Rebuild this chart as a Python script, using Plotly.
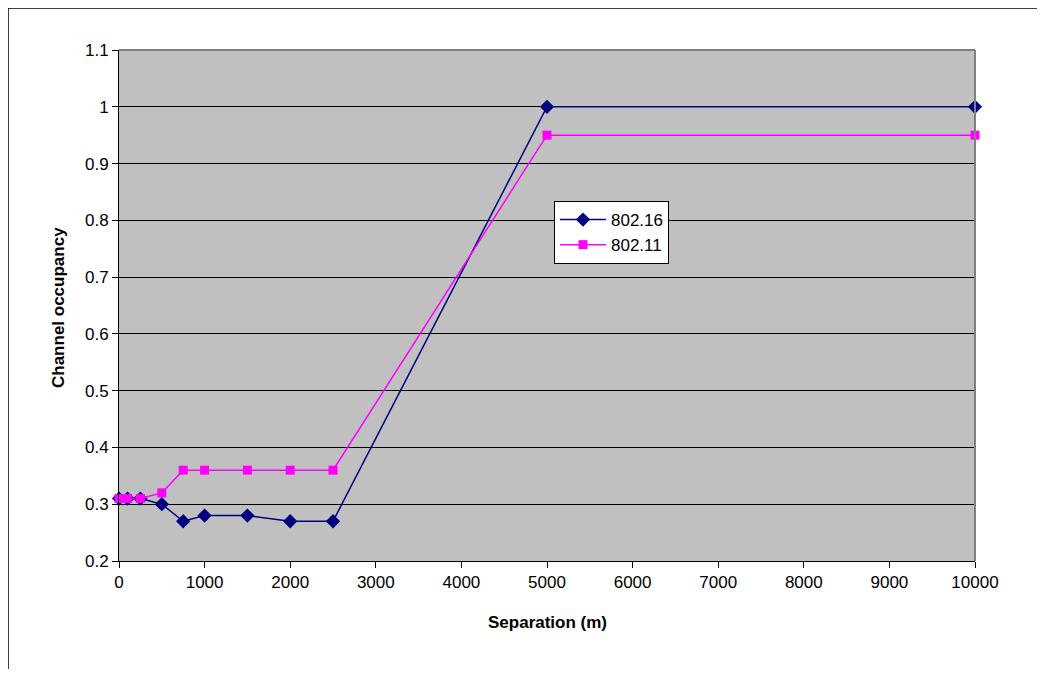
import plotly.graph_objects as go

separation = [0, 100, 250, 500, 750, 1000, 1500, 2000, 2500, 5000, 10000]
occ_80216 = [0.31, 0.31, 0.31, 0.30, 0.27, 0.28, 0.28, 0.27, 0.27, 1.0, 1.0]
occ_80211 = [0.31, 0.31, 0.31, 0.32, 0.36, 0.36, 0.36, 0.36, 0.36, 0.95, 0.95]

OFF = 8  # page body margin
W, H = 1045 - 2 * OFF, 677 - 2 * OFF
L, R, T, B = 119 - OFF, 975 - OFF, 50 - OFF, 561 - OFF
pw, ph = R - L, B - T


def px(x):
    return (x - OFF - L) / pw


def py(y):
    return 1 - (y - OFF - T) / ph


fig = go.Figure()
fig.add_trace(go.Scatter(x=separation, y=occ_80216, name="802.16", mode="lines+markers",
                         line=dict(color="#000080", width=1.5),
                         marker=dict(symbol="diamond", size=11, color="#000080"), cliponaxis=False))
fig.add_trace(go.Scatter(x=separation, y=occ_80211, name="802.11", mode="lines+markers",
                         line=dict(color="#FF00FF", width=1.5),
                         marker=dict(symbol="square", size=9, color="#FF00FF"), cliponaxis=False))

fig.update_layout(
    width=W, height=H,
    margin=dict(l=L, r=W - R, t=T, b=H - B, pad=0),
    paper_bgcolor="white", plot_bgcolor="#C0C0C0",
    font=dict(family="Arial, Liberation Sans, sans-serif", size=17, color="black"),
    showlegend=True,
    legend=dict(x=px(554), y=py(201), xanchor="left", yanchor="top",
                bgcolor="white", bordercolor="black", borderwidth=1,
                font=dict(size=17), tracegroupgap=0, itemwidth=46),
    xaxis=dict(range=[0, 10000], dtick=1000, tick0=0, tickformat="d", showgrid=False,
               zeroline=False, showline=True, linecolor="black", linewidth=1,
               ticks="outside", ticklen=6, tickcolor="black", tickfont=dict(size=17)),
    yaxis=dict(range=[0.2, 1.1], dtick=0.1, tick0=0.2, showgrid=True, gridcolor="black",
               gridwidth=1, zeroline=False, showline=True, linecolor="black", linewidth=1,
               ticks="outside", ticklen=6, tickcolor="black", tickfont=dict(size=17)),
    shapes=[
        dict(type="line", xref="paper", yref="paper", x0=0, x1=1, y0=1, y1=1,
             line=dict(color="#808080", width=2)),
        dict(type="line", xref="paper", yref="paper", x0=1, x1=1, y0=0, y1=1,
             line=dict(color="#808080", width=2)),
        dict(type="line", xref="paper", yref="paper",
             x0=px(8), x1=px(8), y0=py(8), y1=py(700),
             line=dict(color="black", width=1.5), layer="below"),
        dict(type="line", xref="paper", yref="paper",
             x0=px(8), x1=px(1100), y0=py(8), y1=py(8),
             line=dict(color="black", width=1.5), layer="below"),
    ],
    annotations=[
        dict(text="<b>Separation (m)</b>", xref="paper", yref="paper",
             x=px(547), y=py(622), xanchor="center", yanchor="middle",
             showarrow=False, font=dict(size=17)),
        dict(text="<b>Channel occupancy</b>", xref="paper", yref="paper",
             x=px(58), y=py(308), xanchor="center", yanchor="middle",
             showarrow=False, textangle=-90, font=dict(size=17)),
    ],
)

fig.write_html("out.html")
